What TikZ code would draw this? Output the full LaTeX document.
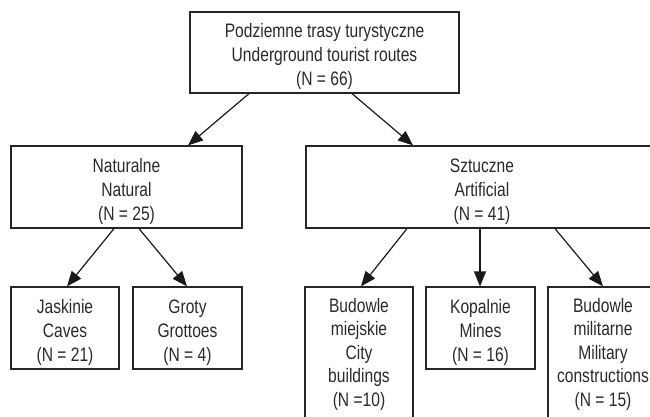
\documentclass[tikz,border=0pt]{standalone}
\usepackage{fontspec}
\newfontfamily\condfont{Liberation Sans}[FakeStretch=0.8]
\usetikzlibrary{arrows.meta}
\definecolor{txt}{HTML}{2A2A2A}
\newcommand\liftA{\rule{0pt}{23pt}}
\newcommand\liftB{\rule{0pt}{18pt}}
\tikzset{
  box/.style={draw=black!85, line width=1.2pt, inner sep=0pt, align=center,
    text=txt, font=\condfont\fontsize{19.5}{24}\selectfont},
  tallbox/.style={box, font=\condfont\fontsize{19.5}{23.5}\selectfont},
  arr/.style={line width=1.2pt, draw=black!90, -{Triangle[length=15pt,width=12pt]}},
}
\begin{document}
\begin{tikzpicture}[x=1pt,y=1pt]
\useasboundingbox (0,0) rectangle (650,416);
\node[box, minimum width=269pt, minimum height=81pt] (top) at (324.5,363.5)
  {\liftA Podziemne trasy turystyczne\\Underground tourist routes\\(N = 66)};
\node[box, minimum width=231pt, minimum height=82pt] (nat) at (126.5,229)
  {\liftA Naturalne\\Natural\\(N = 25)};
\node[box, minimum width=352pt, minimum height=82pt] (art) at (482,229)
  {\liftA Sztuczne\\Artificial\\(N = 41)};
\node[box, minimum width=108pt, minimum height=82pt] (jas) at (65,88)
  {\liftA Jaskinie\\Caves\\(N = 21)};
\node[box, minimum width=109pt, minimum height=82pt] (gro) at (187.5,88)
  {\liftA Groty\\Grottoes\\(N = 4)};
\node[tallbox, minimum width=108pt, minimum height=131pt] (bud) at (359,63.5)
  {\liftB Budowle\\miejskie\\City\\buildings\\(N =10)};
\node[box, minimum width=109pt, minimum height=82pt] (kop) at (480.5,88)
  {\liftA Kopalnie\\Mines\\(N = 16)};
\node[tallbox, minimum width=110pt, minimum height=131pt] (mil) at (603,63.5)
  {\liftB Budowle\\militarne\\Military\\constructions\\(N = 15)};
\draw[arr] ([xshift=-75.5pt]top.south) -- ([xshift=61.5pt]nat.north);
\draw[arr] ([xshift=27.5pt]top.south) -- ([xshift=-69pt]art.north);
\draw[arr] ([xshift=-12.5pt]nat.south) -- ([xshift=2pt]jas.north);
\draw[arr] ([xshift=12.5pt]nat.south) -- ([xshift=-0.5pt]gro.north);
\draw[arr] ([xshift=-75pt]art.south) -- ([xshift=2pt]bud.north);
\draw[arr] ([xshift=-2pt]art.south) -- ([xshift=-0.5pt]kop.north);
\draw[arr] ([xshift=73pt]art.south) -- ([xshift=0pt]mil.north);
\end{tikzpicture}
\end{document}
